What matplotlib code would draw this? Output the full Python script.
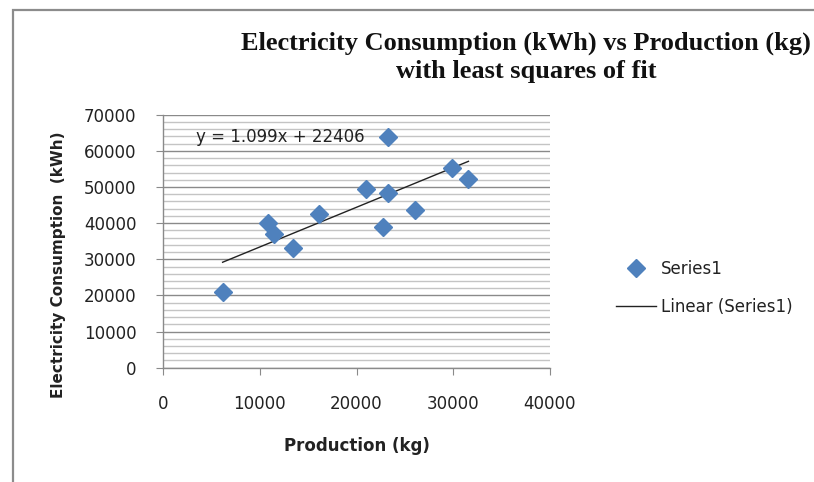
import numpy as np
import matplotlib
matplotlib.use("Agg")
import matplotlib.pyplot as plt
from matplotlib.lines import Line2D
from matplotlib.patches import Rectangle


production_kg = [6160, 10900, 11430, 13390, 16080, 20960, 22790, 23300, 23300, 26060, 29900, 31570]
consumption_kwh = [20850, 40000, 36900, 33000, 42500, 49400, 38800, 48400, 63900, 43600, 55200, 52300]

slope = 1.099
intercept = 22406

x_ticks = [0, 10000, 20000, 30000, 40000]
y_ticks = [0, 10000, 20000, 30000, 40000, 50000, 60000, 70000]

BLUE = "#4F81BD"
GRID_MAJOR = "#8a8a8a"
GRID_MINOR = "#c4c4c4"
TEXT = "#222222"
LABEL_FONT = "DejaVu Sans"


def fit_line(x):
    return slope * x + intercept


fig = plt.figure(figsize=(8.14, 4.82), dpi=100)

# chart frame
fig.patches.append(Rectangle((12.5 / 814, -0.1), 1.2, 1 - 9.5 / 482 + 0.1,
                             transform=fig.transFigure, fill=False,
                             edgecolor="#8c8c8c", linewidth=1.6, zorder=0))

ax = fig.add_axes([163 / 814, 1 - 367.7 / 482, 387 / 814, 253 / 482])

ax.set_xlim(0, 40000)
ax.set_ylim(0, 70000)

ax.set_yticks(np.arange(0, 70001, 2000), minor=True)
ax.set_yticks(y_ticks)
ax.set_xticks(x_ticks)
ax.set_xticklabels([str(v) for v in x_ticks], fontfamily=LABEL_FONT, fontsize=12, color=TEXT)
ax.set_yticklabels([str(v) for v in y_ticks], fontfamily=LABEL_FONT, fontsize=12, color=TEXT)

ax.grid(axis="y", which="major", color=GRID_MAJOR, linewidth=1.0)
ax.grid(axis="y", which="minor", color=GRID_MINOR, linewidth=1.0)
ax.set_axisbelow(True)

for side in ["top", "right"]:
    ax.spines[side].set_visible(False)
for side in ["left", "bottom"]:
    ax.spines[side].set_color(GRID_MAJOR)
    ax.spines[side].set_linewidth(1.0)

ax.tick_params(axis="y", which="major", direction="out", length=5, color=GRID_MAJOR, pad=14)
ax.tick_params(axis="y", which="minor", length=0)
ax.tick_params(axis="x", which="major", direction="out", length=5, color=GRID_MAJOR, pad=15)

# trendline over the data range
xs = np.array([min(production_kg), max(production_kg)])
ax.plot(xs, fit_line(xs), color=TEXT, linewidth=1.0, zorder=3)

ax.plot(production_kg, consumption_kwh, linestyle="none", marker="D",
        markersize=9.5, color=BLUE, markeredgecolor=BLUE, zorder=4)

ax.text(3400, 63900, "y = 1.099x + 22406", fontfamily=LABEL_FONT, fontsize=12,
        color=TEXT, va="center", ha="left")

ax.set_xlabel("Production (kg)", fontfamily=LABEL_FONT, fontsize=12,
              fontweight="bold", color=TEXT)
ax.xaxis.set_label_coords((357 - 163) / 387, -(437 - 367.7) / 253)
ax.set_ylabel("Electricity Consumption  (kWh)", fontfamily=LABEL_FONT, fontsize=11,
              fontweight="bold", color=TEXT)
ax.yaxis.set_label_coords(-(163 - 66) / 387, (367.7 - 265) / 253)

fig.text(526 / 814, 1 - 57 / 482,
         "Electricity Consumption (kWh) vs Production (kg)\nwith least squares of fit",
         ha="center", va="center", fontfamily="Liberation Serif", fontweight="bold",
         fontsize=19, linespacing=1.3, color="#111111")

handles = [
    Line2D([], [], linestyle="none", marker="D", markersize=9.5, color=BLUE),
    Line2D([], [], color=TEXT, linewidth=1.0),
]
fig.legend(handles, ["Series1", "Linear (Series1)"], loc="center left",
           bbox_to_anchor=(601 / 814, 1 - 288 / 482), frameon=False,
           prop={"family": LABEL_FONT, "size": 12}, handlelength=2.4,
           labelspacing=1.2, handletextpad=0.3, labelcolor=TEXT)

fig.savefig("out.png", dpi=100)
